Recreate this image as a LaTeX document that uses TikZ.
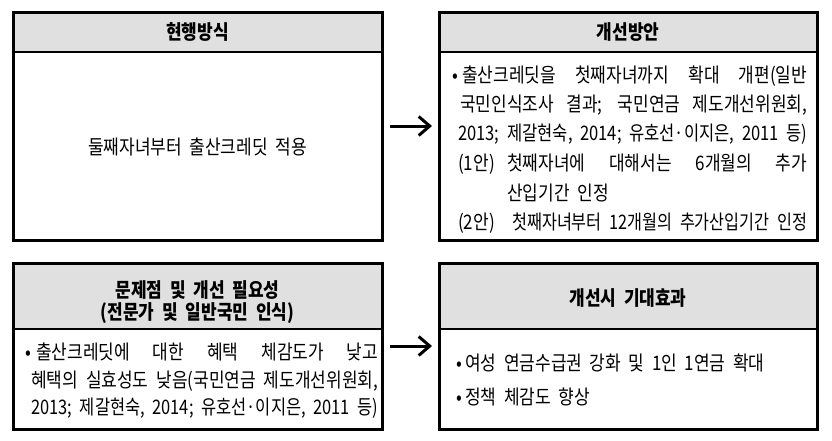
\documentclass[tikz,border=0pt]{standalone}
\usepackage{fontspec}
\setmainfont{Noto Sans CJK KR}[FakeStretch=0.85, WordSpace=2]
\usepackage{graphicx}
\usetikzlibrary{arrows.meta}
\definecolor{hdr}{HTML}{E0E0E0}
\newsavebox\jbox
\newcommand\jline[2]{%
  \sbox\jbox{#2}%
  \ifdim\wd\jbox>#1\relax
    \pgfmathsetmacro\jfac{0.85*#1/\wd\jbox-0.003}%
    \edef\jtmp{\noexpand\addfontfeature{FakeStretch=\jfac}}\jtmp
    \makebox[#1][s]{#2}%
  \else
    \makebox[#1][s]{#2}%
  \fi}
\begin{document}
\begin{tikzpicture}[x=1pt,y=-1pt,
  frame/.style={draw, line width=3pt, inner sep=0pt},
  sepline/.style={line width=1.2pt},
  txt/.style={anchor=west, inner sep=0pt, text height=14.5pt, text depth=0pt, font=\fontsize{20}{24}\selectfont},
  ctxt/.style={anchor=center, inner sep=0pt, font=\fontsize{20}{24}\selectfont},
  ttl/.style={anchor=center, inner sep=0pt, align=center, font=\fontsize{20}{22}\selectfont\bfseries},
  arr/.style={line width=3pt, -{Straight Barb[length=11pt,width=19pt,line width=3pt]}}]
\useasboundingbox (0,0) rectangle (832,440);
% header fills
\fill[hdr] (13,12) rectangle (382,52);
\fill[hdr] (439,12) rectangle (817,52);
\fill[hdr] (13,263) rectangle (382,329);
\fill[hdr] (439,263) rectangle (817,329);
\draw[sepline] (13,52) -- (382,52);
\draw[sepline] (439,52) -- (817,52);
\draw[sepline] (13,329) -- (382,329);
\draw[sepline] (439,329) -- (817,329);
% frames
\node[frame, minimum width=369pt, minimum height=228pt] (b1) at (197.5,126) {};
\node[frame, minimum width=378pt, minimum height=228pt] (b2) at (628,126) {};
\node[frame, minimum width=369pt, minimum height=166pt] (b3) at (197.5,346) {};
\node[frame, minimum width=378pt, minimum height=166pt] (b4) at (628,346) {};
% titles
\node[ttl] (t1) at (197.5,32) {현행방식};
\node[ttl] (t2) at (628,32) {개선방안};
\node[ttl] (t3) at (197.5,302) {문제점 및 개선 필요성\\(전문가 및 일반국민 인식)};
\node[ttl] (t4) at (628,298) {개선시 기대효과};
% box 1
\node[ctxt] (c1) at (197.5,147) {둘째자녀부터 출산크레딧 적용};
% box 2
\node[txt] (p1b) at (452,75) {•};
\node[txt] (p1) at (462,75) {\jline{345pt}{출산크레딧을 첫째자녀까지 확대 개편(일반}};
\node[txt] (p2) at (460,104) {\jline{347pt}{국민인식조사 결과; 국민연금 제도개선위원회,}};
\node[txt] (p3) at (458,133) {\jline{349pt}{2013; 제갈현숙, 2014; 유호선·이지은, 2011 등)}};
\node[txt] (p4a) at (458,163) {(1안)};
\node[txt] (p4) at (507,163) {\jline{300pt}{첫째자녀에 대해서는 6개월의 추가}};
\node[txt] (p5) at (507,193) {산입기간 인정};
\node[txt] (p6a) at (458,222) {(2안)};
\node[txt] (p6) at (512,222) {\jline{295pt}{첫째자녀부터 12개월의 추가산입기간 인정}};
% box 3
\node[txt] (q1b) at (25,352) {•};
\node[txt] (q1) at (36,352) {\jline{342pt}{출산크레딧에 대한 혜택 체감도가 낮고}};
\node[txt] (q2) at (31,380) {\jline{347pt}{혜택의 실효성도 낮음(국민연금 제도개선위원회,}};
\node[txt] (q3) at (31,407) {\jline{347pt}{2013; 제갈현숙, 2014; 유호선·이지은, 2011 등)}};
% box 4
\node[txt] (r1b) at (456,363) {•};
\node[txt] (r1) at (465,363) {여성 연금수급권 강화 및 1인 1연금 확대};
\node[txt] (r2b) at (456,397) {•};
\node[txt] (r2) at (465,397) {정책 체감도 향상};
% arrows
\draw[arr, shorten <=6.5pt, shorten >=5.5pt] (b1.east) -- (b2.west);
\draw[arr, shorten <=6.5pt, shorten >=5.5pt] (b3.east) -- (b4.west);
\end{tikzpicture}
\end{document}
